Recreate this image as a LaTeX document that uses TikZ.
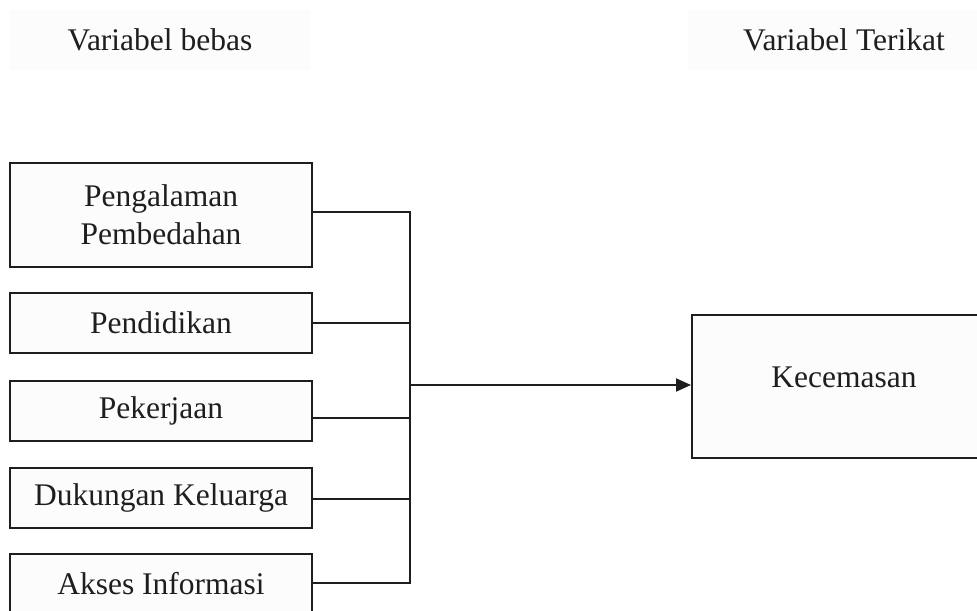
\documentclass[tikz,border=0pt]{standalone}
\usepackage{fontspec}
\setmainfont{Liberation Serif}
\usetikzlibrary{arrows.meta,calc}
\definecolor{offwhite}{RGB}{252,252,252}
\definecolor{ink}{RGB}{30,30,30}
\begin{document}
\begin{tikzpicture}[x=0.5pt,y=-0.5pt,
  every node/.style={font=\fontsize{15.75}{19}\selectfont, text=ink},
  head/.style={fill=offwhite, minimum width=150pt, minimum height=30pt, inner sep=0pt},
  varbox/.style={draw=ink, line width=1pt, fill=offwhite, minimum width=151pt, minimum height=30pt, inner sep=0pt, align=center},
  link/.style={draw=ink, line width=1pt},
  arrowlink/.style={link, -{Triangle[length=7.5pt,width=6.5pt]}}]
\useasboundingbox (0,0) rectangle (977,610);
\clip (0,0) rectangle (977,610);
% headers
\node[head] (hb) at (160,40) {Variabel bebas};
\node[head, minimum width=160pt] (ht) at (848,40) {\hspace*{-4pt}Variabel Terikat};
% independent variable boxes
\node[varbox, minimum height=52pt] (b1) at (161,215) {Pengalaman\\Pembedahan};
\node[varbox] (b2) at (161,323) {Pendidikan};
\node[varbox] (b3) at (161,410.5) {Pekerjaan};
\node[varbox] (b4) at (161,497.5) {Dukungan Keluarga};
\node[varbox] (b5) at (161,584) {Akses Informasi};
% dependent variable box (runs past the right edge)
\node[varbox, minimum width=165pt, minimum height=71.5pt,
      label={[yshift=4.5pt,xshift=-6.5pt]center:Kecemasan}] (kec) at (857,386.5) {};
% bus
\coordinate (busx) at (410,0);
\coordinate (j) at (410,385);
\draw[link] (b1.east |- 0,212) -| (busx |- 0,583) -- (b5.east |- 0,583);
\draw[link] (b2.east) -- (b2.east -| busx);
\draw[link] (b3.east |- 0,418) -- (busx |- 0,418);
\draw[link] (b4.east |- 0,499) -- (busx |- 0,499);
\draw[arrowlink] (j) -- (j -| kec.west);
\end{tikzpicture}
\end{document}
